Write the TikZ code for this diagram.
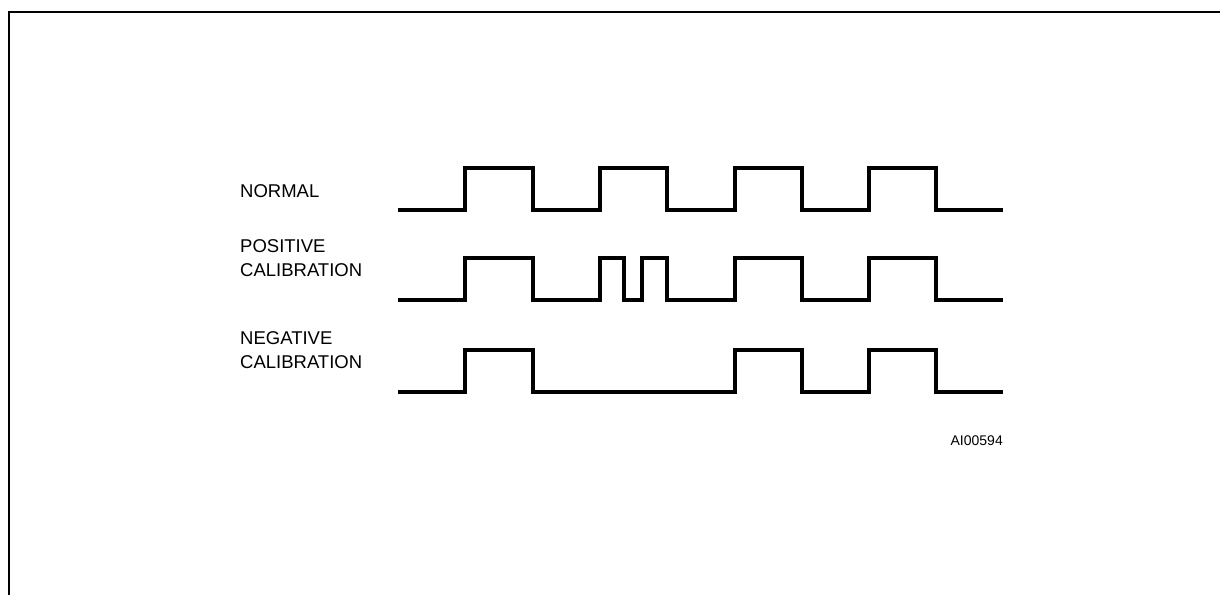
\documentclass[tikz,border=0pt]{standalone}
\usepackage{fontspec}
\setmainfont{Liberation Sans}
\begin{document}
\begin{tikzpicture}[x=1pt, y=-1pt,
  signal/.style={line width=3.2pt, line join=miter},
  etiquette/.style={anchor=base west, inner sep=0pt, align=left,
    font=\fontsize{18.5}{24}\selectfont}]

% Paramètres
\def\xd{398}  % début des signaux
\def\xf{1003} % fin des signaux
\def\dh{42}   % hauteur d'une impulsion

\useasboundingbox (0,0) rectangle (1220,595);

% Cadre
\draw[line width=2pt] (9,595) -- (9,12) -- (1220,12);

% Signal normal
\def\bas{210}
\draw[signal] (\xd,\bas)
  \foreach \r/\f in {465/533,600/667,735/802,869/936}
  { -- (\r,\bas) -- (\r,\bas-\dh) -- (\f,\bas-\dh) -- (\f,\bas) }
  -- (\xf,\bas);
\node[etiquette] (normal) at (240,197) {NORMAL};

% Calibration positive
\def\bas{300}
\draw[signal] (\xd,\bas)
  \foreach \r/\f in {465/533,600/624,642/667,735/802,869/936}
  { -- (\r,\bas) -- (\r,\bas-\dh) -- (\f,\bas-\dh) -- (\f,\bas) }
  -- (\xf,\bas);
\node[etiquette] (positive) at (240,276) {POSITIVE\\CALIBRATION};

% Calibration négative
\def\bas{392}
\draw[signal] (\xd,\bas)
  \foreach \r/\f in {465/533,735/802,869/936}
  { -- (\r,\bas) -- (\r,\bas-\dh) -- (\f,\bas-\dh) -- (\f,\bas) }
  -- (\xf,\bas);
\node[etiquette] (negative) at (240,368) {NEGATIVE\\CALIBRATION};

% Référence
\node[anchor=base east, inner sep=0pt, font=\fontsize{14}{16}\selectfont]
  (ref) at (\xf,445) {AI00594};

\end{tikzpicture}
\end{document}
